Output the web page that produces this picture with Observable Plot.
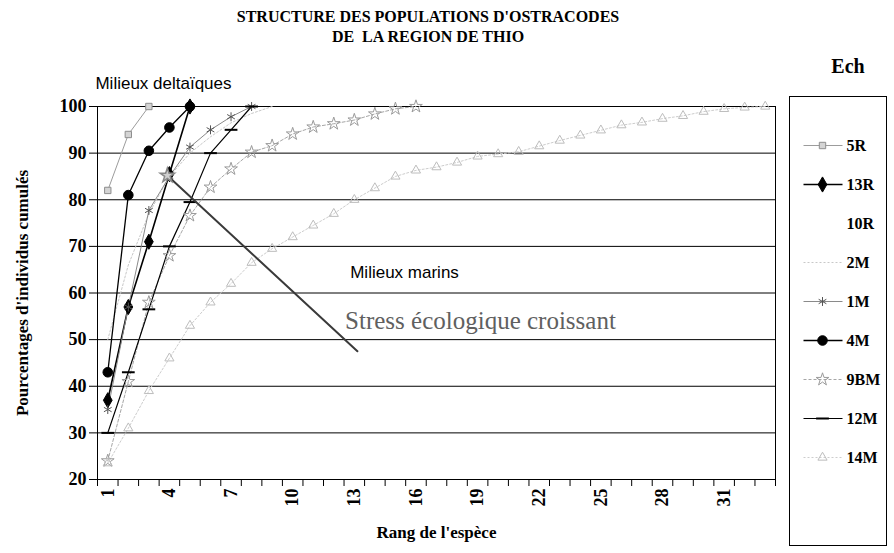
<!DOCTYPE html>
<html><head><meta charset="utf-8">
<script src="https://cdn.jsdelivr.net/npm/d3@7"></script>
<script src="https://cdn.jsdelivr.net/npm/@observablehq/plot@0.6"></script>
<style>
body{margin:0;background:#fff;}
#wrap{position:relative;width:894px;height:553px;overflow:hidden;background:#fff;}
#wrap > svg, #wrap > div{position:absolute;}
#wrap > svg{max-width:none;}
.serifb{font-family:"Liberation Serif","Times New Roman",serif;font-weight:bold;color:#000;white-space:pre;}
#legendBox{left:789px;top:96px;width:96px;height:448px;border:1px solid #000;}
</style></head><body><div id="wrap"><div id="legendBox"></div></div>
<script>
// ---- data ----
const titleLines = ["STRUCTURE DES POPULATIONS D'OSTRACODES", "DE  LA REGION DE THIO"];
const legendTitle = "Ech";
const yLabel = "Pourcentages d'individus cumulés";
const xLabel = "Rang de l'espèce";
const yTicks = [20, 30, 40, 50, 60, 70, 80, 90, 100];
const xTickLabels = [1, 4, 7, 10, 13, 16, 19, 22, 25, 28, 31];
const rankCount = 33;
const seriesNames = ["5R", "13R", "10R", "2M", "1M", "4M", "9BM", "12M", "14M"];
const values5R = [82, 94, 100];
const values13R = [37, 57, 71, 85.5, 100];
const values10R = [];
const values2M = [50, 66, 77, 85, 90, 93.5, 96.5, 98.5, 100];
const values1M = [35, 57, 77.7, 85, 91.3, 95, 97.8, 100];
const values4M = [43, 81, 90.5, 95.5, 100];
const values9BM = [24, 41, 58, 68, 76.6, 82.7, 86.6, 90.2, 91.6, 94.1, 95.6, 96.3, 97.1, 98.4, 99.5, 100];
const values12M = [30, 43, 56.5, 70, 79.5, 90, 95, 100];
const values14M = [23.5, 31, 39, 46, 53, 58, 62, 66.5, 69.5, 72, 74.5, 77, 80, 82.5, 85, 86.3, 87, 88, 89.3, 89.8, 90.3, 91.5, 92.7, 93.8, 94.9, 96, 96.6, 97.4, 98, 98.9, 99.5, 99.8, 100];
const annotationTexts = ["Milieux deltaïques", "Milieux marins", "Stress écologique croissant"];
const annotationRanks = [0.4, 12.8, 12.55];
const annotationPcts = [104.9, 64.4, 53.9];
const arrowRanks = [3.9, 13.15];
const arrowPcts = [85.2, 47.5];

// ---- styles ----
const dashSymbol = {draw(ctx, size) { const w = Math.sqrt(size) * 0.9; ctx.moveTo(-w, 0); ctx.lineTo(w, 0); }};
const styles = {
  "5R":  {stroke: "#9c9c9c", sw: 1, dash: null, symbol: "square", fill: "#d4d4d4", mstroke: "#8e8e8e", r: 3.6, msw: 1},
  "13R": {stroke: "#000", sw: 1.6, dash: null, symbol: "diamond", fill: "#000", mstroke: "#000", r: 4.6, msw: 1},
  "10R": {stroke: "none", sw: 1, dash: null, symbol: null},
  "2M":  {stroke: "#c8c8c8", sw: 1, dash: "2,2", symbol: null},
  "1M":  {stroke: "#8a8a8a", sw: 1, dash: null, symbol: "asterisk", fill: "none", mstroke: "#555", r: 4.2, msw: 1},
  "4M":  {stroke: "#000", sw: 1.3, dash: null, symbol: "circle", fill: "#000", mstroke: "#000", r: 4.8, msw: 1},
  "9BM": {stroke: "#a6a6a6", sw: 1, dash: "3,2", symbol: "star", fill: "none", mstroke: "#9a9a9a", r: 4, msw: 1},
  "12M": {stroke: "#000", sw: 1.2, dash: null, symbol: dashSymbol, fill: "none", mstroke: "#000", r: 4, msw: 2},
  "14M": {stroke: "#cdcdcd", sw: 1, dash: "2,2", symbol: "triangle", fill: "none", mstroke: "#bdbdbd", r: 3.4, msw: 1}
};
const seriesValues = {"5R": values5R, "13R": values13R, "10R": values10R, "2M": values2M, "1M": values1M,
  "4M": values4M, "9BM": values9BM, "12M": values12M, "14M": values14M};

const rows = [];
for (const name of seriesNames) seriesValues[name].forEach((v, i) => rows.push({name, rank: i + 1, pct: v}));
const boundaries = d3.range(0, rankCount + 1).map(d => d + 0.5);
const annotations = annotationTexts.map((t, i) => ({text: t, rank: annotationRanks[i], pct: annotationPcts[i]}));
const arrow = arrowRanks.map((r, i) => ({rank: r, pct: arrowPcts[i]}));

const serif = "Liberation Serif, Times New Roman, serif";
const sans = "Liberation Sans, Arial, sans-serif";

const marks = [
  Plot.gridY(yTicks.filter(d => d > 20), {stroke: "#000", strokeOpacity: 1}),
  Plot.axisY({ticks: yTicks, tickSize: 8, tickPadding: 3, fontSize: 18, fontWeight: "bold", fontFamily: serif, label: null}),
  Plot.axisX({ticks: boundaries, tickFormat: () => "", tickSize: 7, label: null}),
  Plot.axisX({ticks: xTickLabels, tickSize: 0, tickPadding: 9, tickRotate: -90, fontSize: 18, fontWeight: "bold", fontFamily: serif, label: null}),
  Plot.frame({stroke: "#000"}),
];
for (const name of seriesNames) {
  const s = styles[name];
  const data = rows.filter(d => d.name === name);
  if (!data.length) continue;
  marks.push(Plot.line(data, {x: "rank", y: "pct", stroke: s.stroke, strokeWidth: s.sw, strokeDasharray: s.dash}));
}
for (const name of seriesNames) {
  const s = styles[name];
  const data = rows.filter(d => d.name === name);
  if (!data.length || !s.symbol) continue;
  marks.push(Plot.dot(data, {x: "rank", y: "pct", symbol: s.symbol, r: s.r, fill: s.fill, stroke: s.mstroke, strokeWidth: s.msw}));
}
marks.push(Plot.line(arrow, {x: "rank", y: "pct", stroke: "#3a3a3a", strokeWidth: 2}));
marks.push(Plot.dot(arrow.slice(0, 1), {x: "rank", y: "pct", symbol: "star", r: 4.5, fill: "#d0d0d0", stroke: "#888"}));
marks.push(Plot.text(annotations.slice(0, 2), {x: "rank", y: "pct", text: "text", textAnchor: "start", fontSize: 17, fontFamily: sans, fill: "#000"}));
marks.push(Plot.text(annotations.slice(2), {x: "rank", y: "pct", text: "text", textAnchor: "start", fontSize: 25, fontFamily: serif, fill: "#606060"}));
marks.push(Plot.text([yLabel], {frameAnchor: "left", dx: -75, rotate: -90, textAnchor: "middle", fontSize: 17, fontWeight: "bold", fontFamily: serif, fill: "#000"}));
marks.push(Plot.text([xLabel], {frameAnchor: "bottom", dy: 58, fontSize: 17, fontWeight: "bold", fontFamily: serif, fill: "#000"}));

const chart = Plot.plot({
  width: 894, height: 553,
  marginLeft: 97, marginRight: 119, marginTop: 106, marginBottom: 74,
  x: {domain: [0.5, rankCount + 0.5]},
  y: {domain: [20, 100]},
  style: {fontFamily: serif, background: "transparent", color: "#000", overflow: "visible"},
  marks
});
chart.style.left = "0px"; chart.style.top = "0px";
const wrap = document.getElementById("wrap");
wrap.appendChild(chart);

// legend (box drawn by #legendBox)
const legendMarks = [];
for (const name of seriesNames) {
  const s = styles[name];
  legendMarks.push(Plot.link([name], {x1: 14, x2: 53, y1: d => d, y2: d => d, stroke: s.stroke, strokeWidth: s.sw, strokeDasharray: s.dash}));
  if (s.symbol) legendMarks.push(Plot.dot([name], {x: 33, y: d => d, symbol: s.symbol, r: s.r, fill: s.fill, stroke: s.mstroke, strokeWidth: s.msw}));
}
legendMarks.push(Plot.text(seriesNames, {x: 57, y: d => d, text: d => d, textAnchor: "start", fontSize: 16, fontWeight: "bold", fontFamily: serif, fill: "#000"}));
const legend = Plot.plot({
  width: 98, height: 450, margin: 0,
  x: {domain: [0, 98], range: [0, 98], axis: null},
  y: {type: "point", domain: seriesNames, range: [25, 384], axis: null},
  style: {background: "transparent", overflow: "visible"},
  marks: legendMarks
});
legend.style.left = "789px"; legend.style.top = "96px";
legend.style.width = "98px"; legend.style.height = "450px";
wrap.appendChild(legend);

function addText(txt, left, top, width, size, align) {
  const d = document.createElement("div");
  d.className = "serifb";
  d.textContent = txt;
  Object.assign(d.style, {left: left + "px", top: top + "px", width: width + "px", fontSize: size + "px", lineHeight: "1", textAlign: align});
  wrap.appendChild(d);
}
addText(titleLines[0], 0, 9, 856, 16, "center");
addText(titleLines[1], 0, 29, 856, 16, "center");
addText(legendTitle, 808, 56, 80, 20, "center");
</script></body></html>
